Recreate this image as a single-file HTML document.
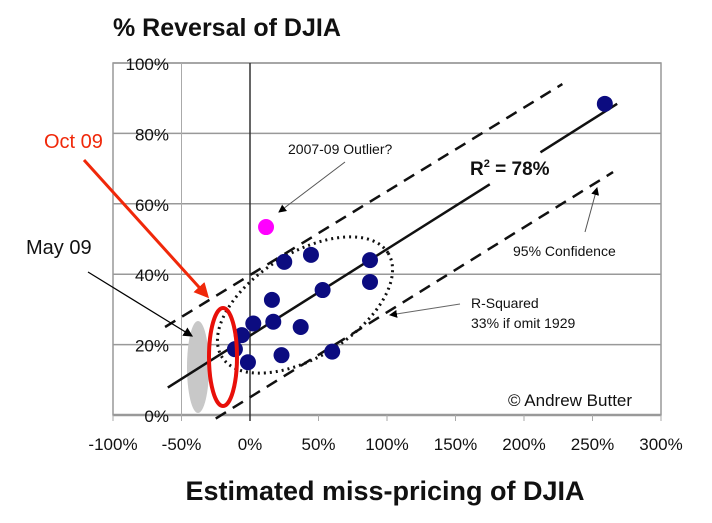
<!DOCTYPE html>
<html><head><meta charset="utf-8"><style>
body{margin:0;background:#fff;width:712px;height:518px;overflow:hidden}
svg text{font-family:"Liberation Sans",sans-serif}
</style></head><body>
<svg id="c" width="712" height="518">
<defs>
<marker id="ah" markerWidth="8" markerHeight="8" refX="7" refY="4" orient="auto"><path d="M0,0L8,4L0,8z" fill="#000"/></marker>
<marker id="ahr" markerWidth="5" markerHeight="5" refX="4" refY="2.5" orient="auto"><path d="M0,0L5,2.5L0,5z" fill="#f0280a"/></marker>
</defs>
<g id="grid"></g>
<g id="marks"></g>
<text x="113" y="36" font-size="25" font-weight="bold" fill="#111">% Reversal of DJIA</text>
<text x="385" y="500" font-size="27" font-weight="bold" fill="#111" text-anchor="middle">Estimated miss-pricing of DJIA</text>
<text x="288" y="154" font-size="14" fill="#111">2007-09 Outlier?</text>
<line x1="345" y1="162" x2="279" y2="212" stroke="#555" stroke-width="1" marker-end="url(#ah)"/>
<text x="470" y="175" font-size="19" font-weight="bold" fill="#111">R<tspan dy="-8" font-size="11">2</tspan><tspan dy="8"> = 78%</tspan></text>
<text x="513" y="256" font-size="14" fill="#111">95% Confidence</text>
<line x1="585" y1="232" x2="597" y2="188" stroke="#555" stroke-width="1" marker-end="url(#ah)"/>
<text x="471" y="308" font-size="14" fill="#111">R-Squared</text>
<text x="471" y="328" font-size="14" fill="#111">33% if omit 1929</text>
<line x1="460" y1="304" x2="390" y2="315" stroke="#666" stroke-width="1" marker-end="url(#ah)"/>
<text x="508" y="406" font-size="17" fill="#111">© Andrew Butter</text>
<text x="44" y="148" font-size="20" fill="#f0280a">Oct 09</text>
<line x1="84" y1="160" x2="207" y2="296" stroke="#f0280a" stroke-width="3" marker-end="url(#ahr)"/>
<text x="26" y="254" font-size="20" fill="#111">May 09</text>
<line x1="88" y1="272" x2="192" y2="336" stroke="#000" stroke-width="1.2" marker-end="url(#ah)"/>
</svg>
<script>
const xTicks=[-100,-50,0,50,100,150,200,250,300];
const yTicks=[0,20,40,60,80,100];
const xVals=[25,44.5,87.6,87.6,53,16,2.4,17,37,-6,-11,-1.5,23,60,259];
const yVals=[43.5,45.5,44,37.8,35.5,32.7,26,26.5,25,22.7,18.7,15,17,18,88.4];
const outlierX=[11.7];
const outlierY=[53.4];
const fitX=[-60,268];
const fitY=[7.8,88.4];
const upperX=[-62,228];
const upperY=[25,94];
const lowerX=[-25,265];
const lowerY=[-1,69];
const X=v=>250+v*1.37, Y=v=>415-v*3.52;
const NS='http://www.w3.org/2000/svg';
const g=document.getElementById('grid'), m=document.getElementById('marks');
function el(t,a,p){const e=document.createElementNS(NS,t);for(const k in a)e.setAttribute(k,a[k]);p.appendChild(e);return e;}
const fr=el('rect',{x:X(-100),y:Y(100),width:X(300)-X(-100),height:Y(0)-Y(100),fill:'none',stroke:'#999','stroke-width':1.5},g);


yTicks.forEach(t=>{
 const l=el('line',{x1:X(-100),x2:X(300),y1:Y(t),y2:Y(t),stroke:'#999','stroke-width':t==0?2.5:1.5},g);
 
 
 const tx=el('text',{x:X(-100)+56,y:Y(t)+7,'font-size':17,'text-anchor':'end',fill:'#111'},g);tx.textContent=t+'%';
 
 
});
xTicks.forEach(t=>{
 const l=el('line',{x1:X(t),x2:X(t),y1:(t==-50||t==0)?Y(100):Y(0),y2:Y(0)+6,stroke:t==0?'#333':'#aaa','stroke-width':t==0?1.5:1},g);
 
 
 const tx=el('text',{x:X(t),y:450,'font-size':17,'text-anchor':'middle',fill:'#111'},g);tx.textContent=t+'%';
 
 
});
const ge=el('ellipse',{cx:198,cy:367,rx:11,ry:46,fill:'#c8c8c8'},m);


const de=el('ellipse',{cx:305,cy:305,rx:98,ry:52,fill:'none',stroke:'#111','stroke-width':3,'stroke-dasharray':'2 4',transform:'rotate(-32 305 305)'},m);


const up=el('line',{x1:X(upperX[0]),y1:Y(upperY[0]),x2:X(upperX[1]),y2:Y(upperY[1]),stroke:'#111','stroke-width':2.5,'stroke-dasharray':'12 8'},m);


const lo=el('line',{x1:X(lowerX[0]),y1:Y(lowerY[0]),x2:X(lowerX[1]),y2:Y(lowerY[1]),stroke:'#111','stroke-width':2.5,'stroke-dasharray':'12 8'},m);


const slope=(fitY[1]-fitY[0])/(fitX[1]-fitX[0]);
const f=v=>fitY[0]+slope*(v-fitX[0]);
[[fitX[0],175],[212,fitX[1]]].forEach(s=>{
 const l=el('line',{x1:X(s[0]),y1:Y(f(s[0])),x2:X(s[1]),y2:Y(f(s[1])),stroke:'#111','stroke-width':2.5},m);
 
 
});
xVals.forEach((v,i)=>{
 const c=el('circle',{cx:X(v),cy:Y(yVals[i]),r:8,fill:'#0c0c80'},m);
 
 
});
outlierX.forEach((v,i)=>{
 const c=el('circle',{cx:X(v),cy:Y(outlierY[i]),r:8,fill:'#ff00ff'},m);
 
 
});
const re=el('ellipse',{cx:223,cy:357,rx:14,ry:49,fill:'none',stroke:'#e8100a','stroke-width':4},m);


</script>
</body></html>
